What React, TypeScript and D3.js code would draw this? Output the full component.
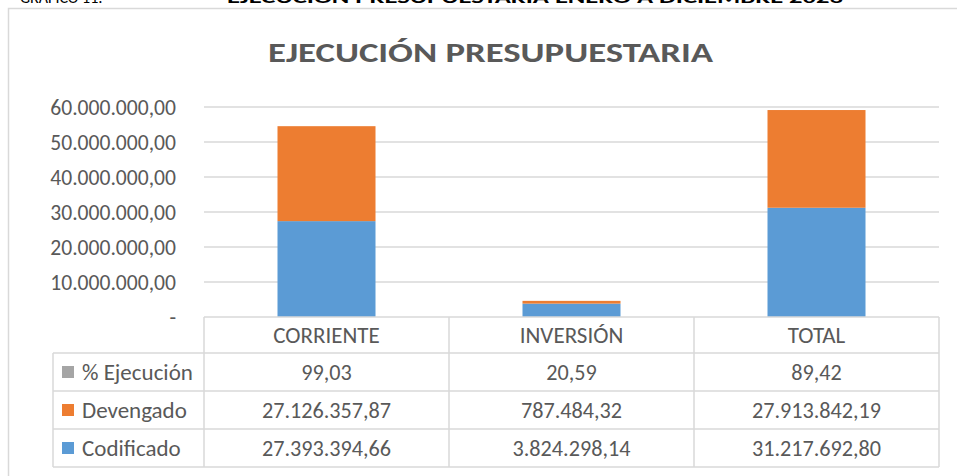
import React from 'react';
import * as d3 from 'd3';

// datos del gráfico
const categories = ['CORRIENTE', 'INVERSIÓN', 'TOTAL'];
const codificado = [27393394.66, 3824298.14, 31217692.8];
const devengado = [27126357.87, 787484.32, 27913842.19];
const ejecucion = [99.03, 20.59, 89.42];
const yTicks = [0, 10000000, 20000000, 30000000, 40000000, 50000000, 60000000];

const series = [
  { name: '% Ejecución', values: ejecucion, color: '#A5A5A5' },
  { name: 'Devengado', values: devengado, color: '#ED7D31' },
  { name: 'Codificado', values: codificado, color: '#5B9BD5' },
];

const locale = d3.formatLocale({ decimal: ',', thousands: '.', grouping: [3], currency: ['', ''] });
const fmt = locale.format(',.2f');

const W = 957;
const H = 476;
const FONT = 'Calibri, Carlito, Lato, sans-serif';
const TXT = '#595959';
const GRID = '#D9D9D9';

const App: React.FC = () => {
  const left = 204;
  const right = 939;
  const y = d3.scaleLinear().domain([0, 60000000]).range([317, 107]);
  const x = d3.scaleBand().domain(categories).range([left, right]);
  const barW = x.bandwidth() * 0.4;

  // pila: codificado abajo, devengado, % ejecución arriba
  const rows = categories.map((c, i) => ({
    cat: c,
    Codificado: codificado[i],
    Devengado: devengado[i],
    Ejecucion: ejecucion[i],
  }));
  const stack = d3.stack<any>().keys(['Codificado', 'Devengado', 'Ejecucion'])(rows);
  const colors = ['#5B9BD5', '#ED7D31', '#A5A5A5'];

  const tableTop = y(0);
  const rowLines = [tableTop, 353, 391, 429, 467];
  const legendLeft = 53;

  return (
    <svg width={W} height={H} style={{ position: 'absolute', left: 0, top: 0, background: '#fff' }}>
      {/* encabezado cortado de la página */}
      <text x={20} y={3} fontFamily={FONT} fontSize={16} fill="#000">GRÁFICO 11:</text>
      <text
        x={227}
        y={3}
        fontFamily={FONT}
        fontSize={16}
        fontWeight="bold"
        fill="#000"
        textLength={616}
        lengthAdjust="spacingAndGlyphs"
      >
        EJECUCIÓN PRESUPUESTARIA ENERO A DICIEMBRE 2023
      </text>

      <rect x={8.5} y={8.5} width={W} height={H} fill="#fff" stroke={GRID} strokeWidth={1.5} />

      <text
        x={268}
        y={62}
        fontFamily={FONT}
        fontSize={29}
        fontWeight="bold"
        fill={TXT}
        textLength={445}
        lengthAdjust="spacingAndGlyphs"
      >
        EJECUCIÓN PRESUPUESTARIA
      </text>

      {yTicks.map(t => (
        <g key={t}>
          {t > 0 && <line x1={left} x2={right} y1={y(t)} y2={y(t)} stroke={GRID} strokeWidth={1.5} />}
          <text x={176} y={y(t)} dy="0.35em" textAnchor="end" fontFamily={FONT} fontSize={21.6} fill={TXT}>
            {t === 0 ? '-' : fmt(t)}
          </text>
        </g>
      ))}

      {stack.map((s, si) => (
        <g key={s.key} fill={colors[si]}>
          {s.map((d, i) => (
            <rect
              key={i}
              x={(x(categories[i]) as number) + (x.bandwidth() - barW) / 2}
              y={y(d[1])}
              width={barW}
              height={Math.max(0, y(d[0]) - y(d[1]))}
            />
          ))}
        </g>
      ))}

      {/* tabla de datos */}
      <g stroke={GRID} strokeWidth={1.5} fill="none">
        <line x1={left} x2={right} y1={tableTop} y2={tableTop} />
        {rowLines.slice(1).map(r => (
          <line key={r} x1={legendLeft} x2={right} y1={r} y2={r} />
        ))}
        <line x1={legendLeft} x2={legendLeft} y1={rowLines[1]} y2={rowLines[4]} />
        {[...categories.map(c => x(c) as number), right].map(cx => (
          <line key={cx} x1={cx} x2={cx} y1={tableTop} y2={rowLines[4]} />
        ))}
      </g>

      {categories.map(c => (
        <text
          key={c}
          x={(x(c) as number) + x.bandwidth() / 2}
          y={(rowLines[0] + rowLines[1]) / 2}
          dy="0.35em"
          textAnchor="middle"
          fontFamily={FONT}
          fontSize={23}
          fill={TXT}
        >
          {c}
        </text>
      ))}

      {series.map((s, ri) => {
        const cy = (rowLines[ri + 1] + rowLines[ri + 2]) / 2;
        return (
          <g key={s.name}>
            <rect x={62} y={cy - 6} width={12} height={12} fill={s.color} />
            <text x={82} y={cy} dy="0.35em" fontFamily={FONT} fontSize={23} fill={TXT}>
              {s.name}
            </text>
            {s.values.map((v, i) => (
              <text
                key={i}
                x={(x(categories[i]) as number) + x.bandwidth() / 2}
                y={cy}
                dy="0.35em"
                textAnchor="middle"
                fontFamily={FONT}
                fontSize={22.2}
                fill={TXT}
              >
                {fmt(v)}
              </text>
            ))}
          </g>
        );
      })}
    </svg>
  );
};

export default App;
